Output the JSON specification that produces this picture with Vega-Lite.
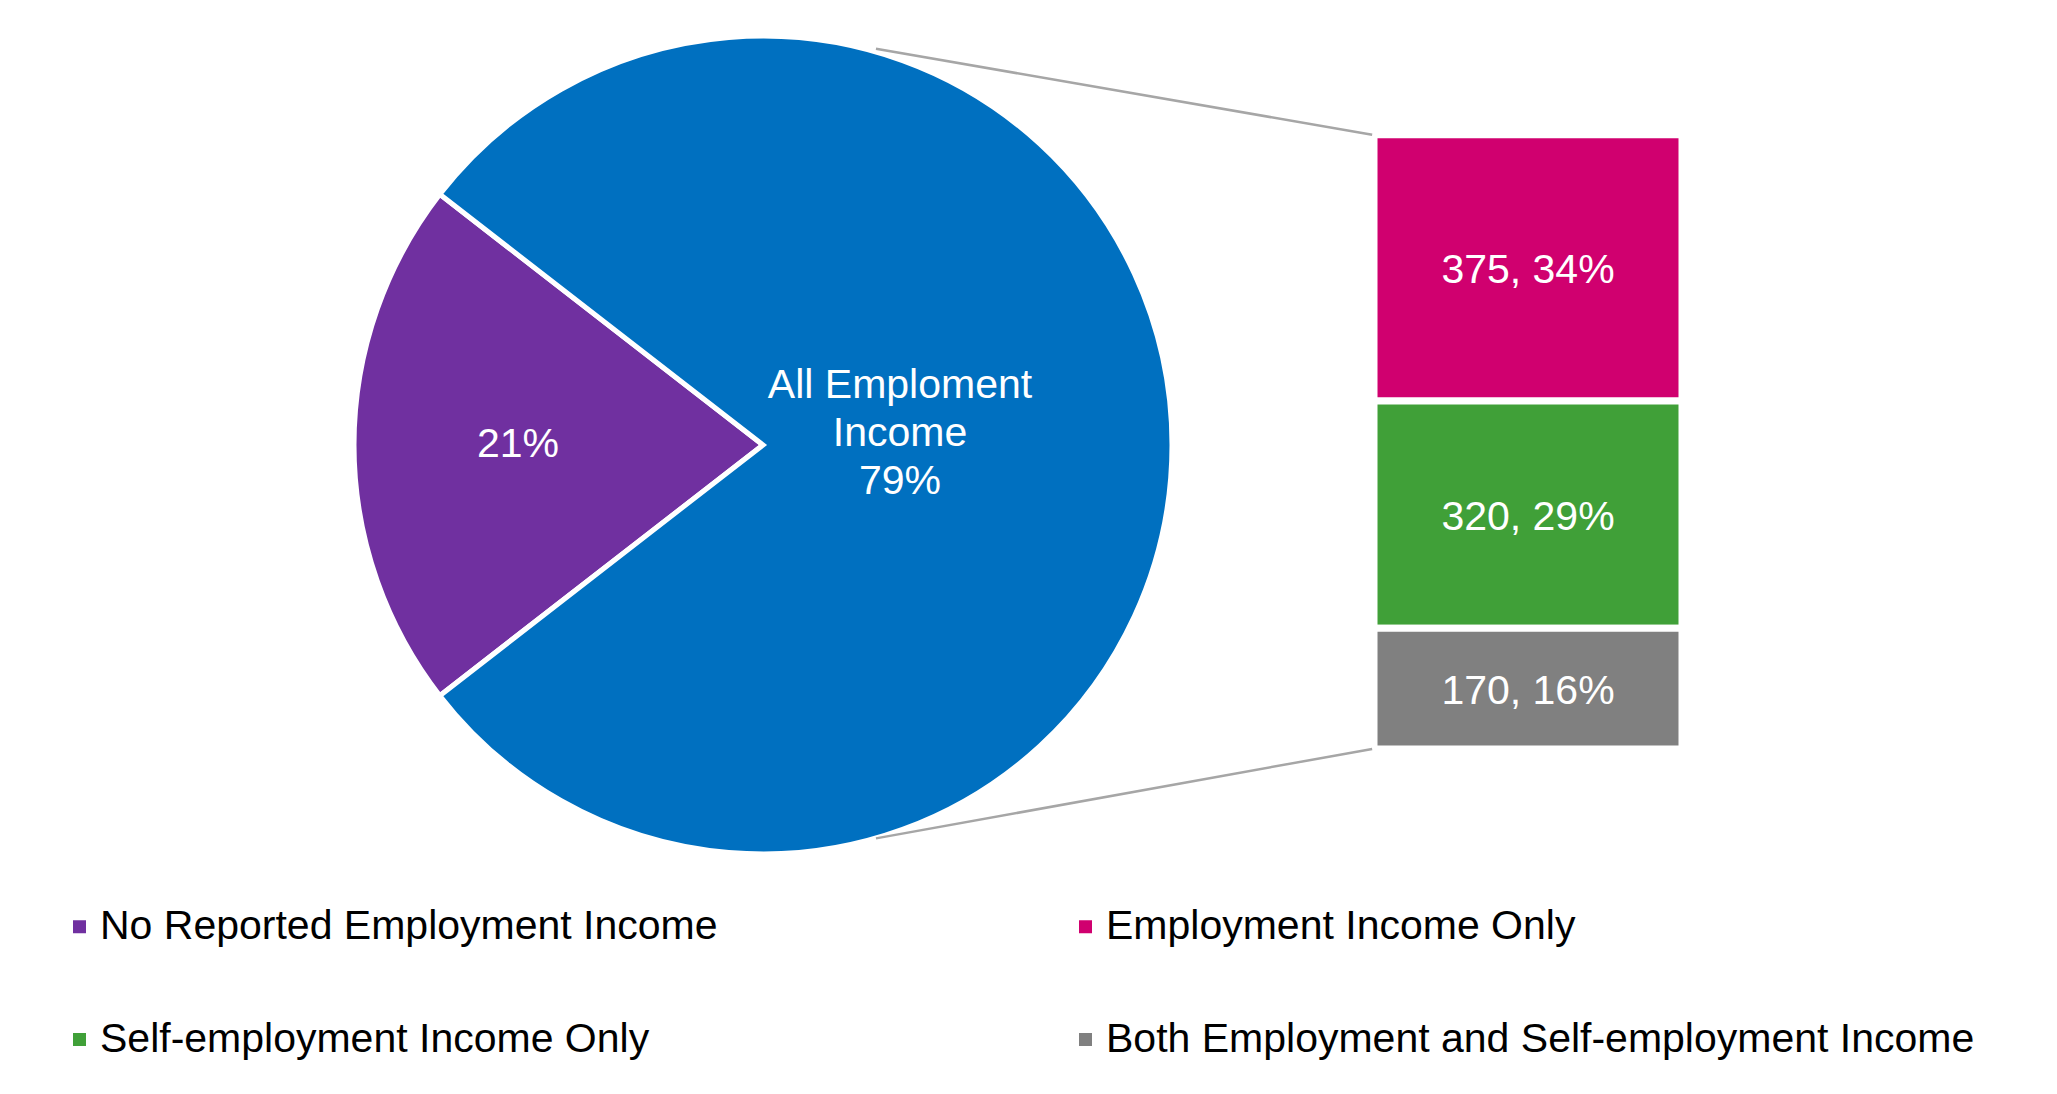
{
  "$schema": "https://vega.github.io/schema/vega-lite/v6.json",
  "padding": {"left": 59, "top": 26, "right": 0, "bottom": 0},
  "background": "white",
  "data": {
    "values": [
      {"category": "No Reported Employment Income", "part": "pie", "value": 21, "label": "21%"},
      {"category": "All Employment Income", "part": "pie", "value": 79, "label": ["All Emploment", "Income", "79%"]},
      {"category": "Employment Income Only", "part": "bar", "value": 375, "label": "375, 34%"},
      {"category": "Self-employment Income Only", "part": "bar", "value": 320, "label": "320, 29%"},
      {"category": "Both Employment and Self-employment Income", "part": "bar", "value": 170, "label": "170, 16%"}
    ]
  },
  "spacing": 202,
  "bounds": "flush",
  "hconcat": [
    {
      "width": 818,
      "height": 818,
      "transform": [{"filter": "datum.part === 'pie'"}],
      "layer": [
        {
          "mark": {"type": "arc", "stroke": "white", "strokeWidth": 5},
          "encoding": {
            "theta": {"field": "value", "type": "quantitative", "stack": true, "scale": {"range": [4.0527, 10.3359]}},
            "order": {"field": "value", "type": "quantitative"},
            "color": {
              "field": "category",
              "type": "nominal",
              "scale": {
                "domain": ["No Reported Employment Income", "Employment Income Only", "Self-employment Income Only", "Both Employment and Self-employment Income", "All Employment Income"],
                "range": ["#7030a0", "#d0006f", "#40a038", "#808080", "#0070c0"]
              },
              "legend": {
                "values": ["No Reported Employment Income", "Self-employment Income Only", "Employment Income Only", "Both Employment and Self-employment Income"],
                "orient": "none",
                "legendX": -295,
                "legendY": 870,
                "title": null,
                "columns": 2,
                "columnPadding": 347,
                "rowPadding": 71,
                "padding": 0,
                "symbolType": "square",
                "symbolSize": 169,
                "symbolStrokeWidth": 0,
                "symbolOpacity": 1,
                "labelFont": "Liberation Sans",
                "labelFontSize": 41,
                "labelColor": "black",
                "labelLimit": 0,
                "labelOffset": 0
              }
            }
          }
        },
        {
          "mark": {"type": "text", "radius": 245, "font": "Liberation Sans", "fontSize": 41, "fill": "white"},
          "encoding": {
            "theta": {"field": "value", "type": "quantitative", "stack": true},
            "order": {"field": "value", "type": "quantitative"},
            "text": {"condition": {"test": "datum.category === 'No Reported Employment Income'", "field": "label", "type": "nominal"}, "value": ""}
          }
        },
        {
          "mark": {"type": "text", "radius": 137, "dy": -59, "lineHeight": 48, "font": "Liberation Sans", "fontSize": 41, "fill": "white"},
          "encoding": {
            "theta": {"field": "value", "type": "quantitative", "stack": true},
            "order": {"field": "value", "type": "quantitative"},
            "text": {"condition": {"test": "datum.category === 'All Employment Income'", "field": "label", "type": "nominal"}, "value": ""}
          }
        }
      ]
    },
    {
      "width": 308,
      "height": 818,
      "layer": [
        {
          "transform": [{"filter": "datum.part === 'bar'"}],
          "mark": {"type": "bar", "stroke": "white", "strokeWidth": 7},
          "encoding": {
            "x": {"field": "part", "type": "nominal", "scale": {"paddingInner": 0, "paddingOuter": 0}, "axis": null},
            "y": {"field": "value", "type": "quantitative", "stack": "zero", "scale": {"domain": [-148, 1004], "nice": false, "zero": false}, "axis": null},
            "order": {"field": "value", "type": "quantitative"},
            "color": {"field": "category", "type": "nominal"}
          }
        },
        {
          "transform": [{"filter": "datum.part === 'bar'"}],
          "mark": {"type": "text", "dy": 3, "font": "Liberation Sans", "fontSize": 41, "fill": "white"},
          "encoding": {
            "y": {"field": "value", "type": "quantitative", "stack": "zero", "bandPosition": 0.5},
            "order": {"field": "value", "type": "quantitative"},
            "text": {"field": "label", "type": "nominal"}
          }
        },
        {
          "data": {"values": [{}]},
          "mark": {"type": "rule", "color": "#a6a6a6", "strokeWidth": 2.5},
          "encoding": {
            "x": {"datum": -1.617, "type": "quantitative", "scale": {"domain": [0, 1], "nice": false, "zero": false}, "axis": null},
            "x2": {"datum": -0.006},
            "y": {"datum": 986, "type": "quantitative"},
            "y2": {"datum": 865}
          }
        },
        {
          "data": {"values": [{}]},
          "mark": {"type": "rule", "color": "#a6a6a6", "strokeWidth": 2.5},
          "encoding": {
            "x": {"datum": -1.617, "type": "quantitative", "scale": {"domain": [0, 1], "nice": false, "zero": false}, "axis": null},
            "x2": {"datum": -0.006},
            "y": {"datum": -126, "type": "quantitative"},
            "y2": {"datum": 0}
          }
        }
      ],
      "resolve": {"scale": {"x": "independent"}}
    }
  ],
  "config": {
    "view": {"stroke": null},
    "font": "Liberation Sans"
  }
}
